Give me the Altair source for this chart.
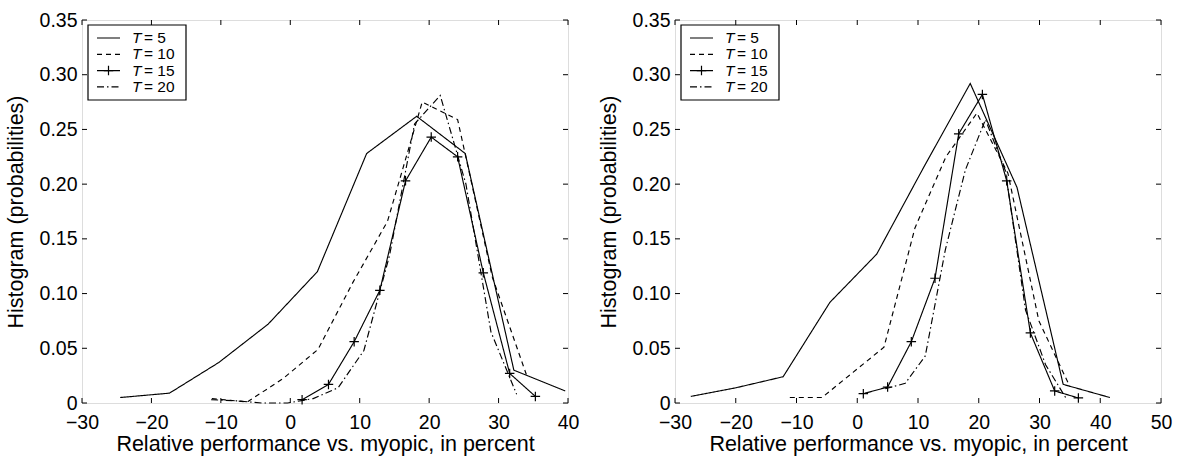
import altair as alt
import pandas as pd

SERIES = ["T = 5", "T = 10", "T = 15", "T = 20"]

# ---- left panel data ----
L_T5_x = [-24.5, -17.4, -10.3, -3.2, 3.9, 11.0, 18.2, 25.2, 32.2, 39.6]
L_T5_y = [0.005, 0.009, 0.037, 0.072, 0.120, 0.228, 0.262, 0.228, 0.030, 0.011]
L_T10_x = [-11.3, -6.2, -1.1, 4.0, 9.0, 14.0, 19.0, 24.1, 29.1, 34.0]
L_T10_y = [0.004, 0.001, 0.022, 0.049, 0.110, 0.166, 0.275, 0.259, 0.115, 0.026]
L_T15_x = [1.7, 5.5, 9.2, 12.9, 16.6, 20.3, 24.1, 27.8, 31.6, 35.3]
L_T15_y = [0.003, 0.017, 0.056, 0.103, 0.203, 0.243, 0.225, 0.119, 0.027, 0.006]
L_T20_x = [-11.4, -7.7, -4.1, -0.4, 3.3, 6.9, 10.6, 14.3, 17.9, 21.6, 25.3, 28.9, 32.6]
L_T20_y = [0.003, 0.002, 0.0, 0.0, 0.004, 0.014, 0.048, 0.135, 0.255, 0.281, 0.200, 0.065, 0.008]

# ---- right panel data ----
R_T5_x = [-27.4, -19.9, -12.2, -4.5, 3.2, 10.9, 18.6, 26.3, 33.9, 41.6]
R_T5_y = [0.006, 0.014, 0.024, 0.092, 0.136, 0.215, 0.292, 0.197, 0.017, 0.005]
R_T10_x = [-11.1, -5.8, -0.7, 4.4, 9.5, 14.6, 19.7, 24.8, 29.9, 35.0]
R_T10_y = [0.005, 0.005, 0.028, 0.051, 0.160, 0.225, 0.265, 0.210, 0.075, 0.015]
R_T15_x = [1.0, 5.0, 8.9, 12.8, 16.7, 20.6, 24.6, 28.5, 32.5, 36.4]
R_T15_y = [0.0085, 0.0146, 0.056, 0.114, 0.246, 0.282, 0.203, 0.064, 0.011, 0.0046]
R_T20_x = [4.6, 7.9, 11.2, 14.5, 17.8, 21.1, 24.4, 27.7, 31.0, 34.3]
R_T20_y = [0.013, 0.018, 0.043, 0.140, 0.213, 0.259, 0.212, 0.085, 0.035, 0.005]

L_XTICKS = [-30, -20, -10, 0, 10, 20, 30, 40]
R_XTICKS = [-30, -20, -10, 0, 10, 20, 30, 40, 50]
YTICKS = [0, 0.05, 0.10, 0.15, 0.20, 0.25, 0.30, 0.35]

W, H = 486, 383
FONT = "Liberation Sans"
DASHES = [[1, 0], [5, 4], [1, 0], [7, 3, 1.5, 3]]
PLUS = "M-1,0L1,0M0,-1L0,1"
LEG_FS = 15.5


def make_df(xs_list, ys_list):
    rows = []
    for s, xs, ys in zip(SERIES, xs_list, ys_list):
        for i, (x, y) in enumerate(zip(xs, ys)):
            rows.append({"series": s, "x": x, "y": y, "i": i})
    return pd.DataFrame(rows)


def panel(df, xmax, xticks):
    xscale = alt.Scale(domain=[-30, xmax], nice=False, zero=False)
    yscale = alt.Scale(domain=[0, 0.35], nice=False, zero=False)
    xaxis = alt.Axis(values=xticks, ticks=False, domain=False, grid=False,
                     labelPadding=10, labelFontSize=19.5, format="d", labelFlush=False,
                     labelOverlap=False,
                     title="Relative performance vs. myopic, in percent",
                     titleFontSize=21.5, titleFontWeight="normal", titlePadding=2)
    yaxis = alt.Axis(values=YTICKS, ticks=False, domain=False, grid=False,
                     labelPadding=5, labelFontSize=19.5, labelFlush=False,
                     labelOverlap=False,
                     labelExpr="datum.value == 0 ? '0' : format(datum.value, '.2f')",
                     title="Histogram (probabilities)", titleFontSize=21.5,
                     titleFontWeight="normal", titlePadding=12)
    base = alt.Chart(df)
    lines = base.mark_line(color="black", strokeWidth=1.15).encode(
        x=alt.X("x:Q", scale=xscale, axis=xaxis),
        y=alt.Y("y:Q", scale=yscale, axis=yaxis),
        strokeDash=alt.StrokeDash("series:N", scale=alt.Scale(domain=SERIES, range=DASHES), legend=None),
        order="i:Q",
    )
    marks = base.transform_filter(alt.datum.series == "T = 15").mark_point(
        shape=PLUS, size=90, color="black", strokeWidth=1.2, filled=False, opacity=1
    ).encode(x="x:Q", y="y:Q")

    xt = pd.DataFrame({"x": xticks})
    yt = pd.DataFrame({"y": YTICKS})
    tb = alt.Chart(xt).mark_rule(color="black", strokeWidth=1).encode(
        x="x:Q", y=alt.value(H), y2=alt.value(H - 5))
    tt = alt.Chart(xt).mark_rule(color="black", strokeWidth=1).encode(
        x="x:Q", y=alt.value(0), y2=alt.value(5))
    tl = alt.Chart(yt).mark_rule(color="black", strokeWidth=1).encode(
        y="y:Q", x=alt.value(0), x2=alt.value(5))
    tr = alt.Chart(yt).mark_rule(color="black", strokeWidth=1).encode(
        y="y:Q", x=alt.value(W - 5), x2=alt.value(W))

    one = pd.DataFrame({"a": [0]})
    box = alt.Chart(one).mark_rect(fill="white", stroke="black", strokeWidth=1.2).encode(
        x=alt.value(6), x2=alt.value(104), y=alt.value(5), y2=alt.value(80))
    layers = [lines, marks, tb, tt, tl, tr, box]
    for k, s in enumerate(SERIES):
        yy = 18 + 16.3 * k
        layers.append(alt.Chart(one).mark_rule(color="black", strokeWidth=1.15, strokeDash=DASHES[k]).encode(
            x=alt.value(15), x2=alt.value(38), y=alt.value(yy)))
        if s == "T = 15":
            layers.append(alt.Chart(one).mark_point(shape=PLUS, size=90, color="black",
                                                    strokeWidth=1.2, filled=False, opacity=1).encode(
                x=alt.value(26.5), y=alt.value(yy)))
        layers.append(alt.Chart(one).mark_text(text="T", font=FONT, fontSize=LEG_FS, fontStyle="italic",
                                               align="left", baseline="middle", color="black").encode(
            x=alt.value(50), y=alt.value(yy)))
        layers.append(alt.Chart(one).mark_text(text=s.replace("T ", ""), font=FONT, fontSize=LEG_FS,
                                               align="left", baseline="middle", color="black").encode(
            x=alt.value(62), y=alt.value(yy)))
    return alt.layer(*layers).properties(width=W, height=H)


left = panel(make_df([L_T5_x, L_T10_x, L_T15_x, L_T20_x], [L_T5_y, L_T10_y, L_T15_y, L_T20_y]), 40, L_XTICKS)
right = panel(make_df([R_T5_x, R_T10_x, R_T15_x, R_T20_x], [R_T5_y, R_T10_y, R_T15_y, R_T20_y]), 50, R_XTICKS)

chart = alt.hconcat(left, right, spacing=17).properties(
    padding={"left": 4, "top": 9, "right": 0, "bottom": 0}
).configure_view(stroke="black", strokeWidth=1.2).configure_axis(
    labelFont=FONT, titleFont=FONT, labelColor="black", titleColor="black"
).configure(background="white")

chart.save("out.html", embed_options={"renderer": "svg", "actions": False})
